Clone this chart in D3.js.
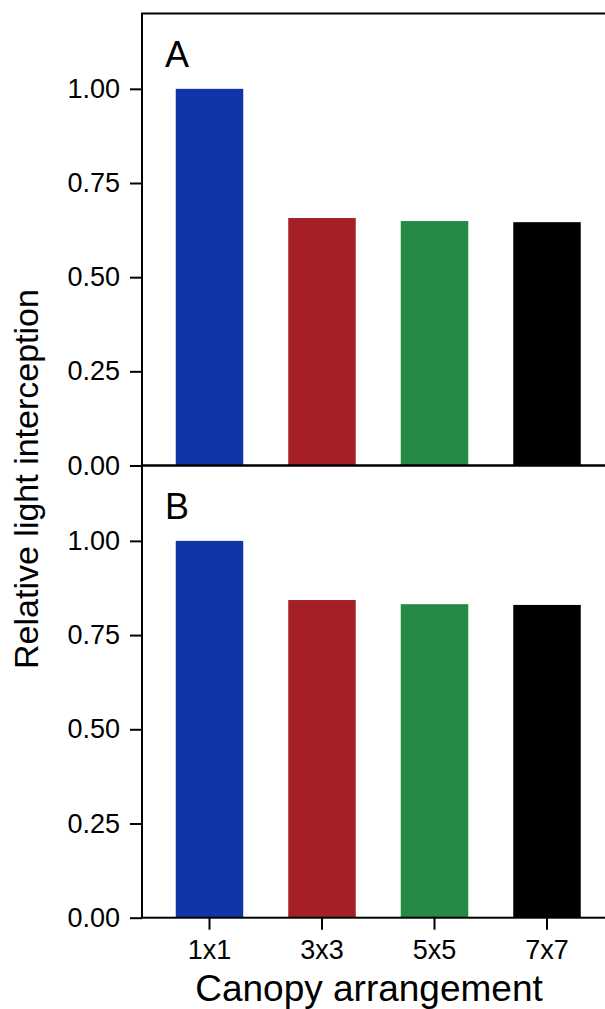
<!doctype html>
<html lang="en">
<head>
  <style>
    body { margin: 0; background: #fff; }
    text { font-family: "Liberation Sans", Arial, sans-serif; fill: #000; }
    .tick-label { font-size: 27px; }
    .x-title { font-size: 37px; }
    .y-title { font-size: 34px; }
    .panel-tag { font-size: 36px; }
  </style>
  <script src="https://d3js.org/d3.v7.min.js"></script>
</head>
<body>
  <script>
    const categories = ["1x1", "3x3", "5x5", "7x7"];
    const panelA = [1.00, 0.657, 0.649, 0.646];
    const panelB = [1.00, 0.843, 0.832, 0.830];
    const barColors = ["#1035a8", "#a51f26", "#268a46", "#000000"];
    const yTicks = [0, 0.25, 0.5, 0.75, 1.0];

    const W = 605, H = 1009;
    const left = 142;
    const step = 112.5;
    const panels = [
      { tag: "A", values: panelA, top: 13.5, bottom: 465.5 },
      { tag: "B", values: panelB, top: 465.5, bottom: 917.7 }
    ];

    const svg = d3.select("body")
      .append("svg")
      .attr("width", W)
      .attr("height", H);

    const x = d3.scaleBand()
      .domain(categories)
      .range([left, left + 4.2 * step])
      .paddingInner(0.4)
      .paddingOuter(0.3);

    panels.forEach((p, i) => {
      const y = d3.scaleLinear()
        .domain([0, 1.2])
        .range([p.bottom, p.top]);

      const g = svg.append("g");

      g.selectAll("rect.bar")
        .data(categories)
        .join("rect")
        .attr("class", "bar")
        .attr("x", d => x(d))
        .attr("width", x.bandwidth())
        .attr("y", (d, j) => y(p.values[j]))
        .attr("height", (d, j) => y(0) - y(p.values[j]))
        .attr("fill", (d, j) => barColors[j]);

      // y axis
      const yAxis = g.append("g")
        .attr("transform", `translate(${left},0)`)
        .call(d3.axisLeft(y).tickValues(yTicks).tickFormat(d3.format(".2f")).tickSize(12).tickPadding(10));
      yAxis.select(".domain").remove();
      yAxis.selectAll(".tick line").attr("stroke", "#000").attr("stroke-width", 2);
      yAxis.selectAll(".tick text").attr("class", "tick-label");
      yAxis.attr("font-size", null).attr("font-family", null);

      // panel border (right side falls outside the view)
      g.append("rect")
        .attr("x", left)
        .attr("y", p.top)
        .attr("width", x.range()[1] - left)
        .attr("height", p.bottom - p.top)
        .attr("fill", "none")
        .attr("stroke", "#000")
        .attr("stroke-width", 2);

      g.append("text")
        .attr("class", "panel-tag")
        .attr("x", 165)
        .attr("y", p.top + 53)
        .text(p.tag);

      if (i === panels.length - 1) {
        const xAxis = g.append("g")
          .attr("transform", `translate(0,${p.bottom})`)
          .call(d3.axisBottom(x).tickSize(12).tickPadding(10));
        xAxis.select(".domain").remove();
        xAxis.selectAll(".tick line").attr("stroke", "#000").attr("stroke-width", 2);
        xAxis.selectAll(".tick text").attr("class", "tick-label");
        xAxis.attr("font-size", null).attr("font-family", null);
      }
    });

    svg.append("text")
      .attr("class", "x-title")
      .attr("x", 369)
      .attr("y", 1001)
      .attr("text-anchor", "middle")
      .text("Canopy arrangement");

    svg.append("text")
      .attr("class", "y-title")
      .attr("transform", "translate(38,479) rotate(-90)")
      .attr("text-anchor", "middle")
      .text("Relative light interception");
  </script>
</body>
</html>
